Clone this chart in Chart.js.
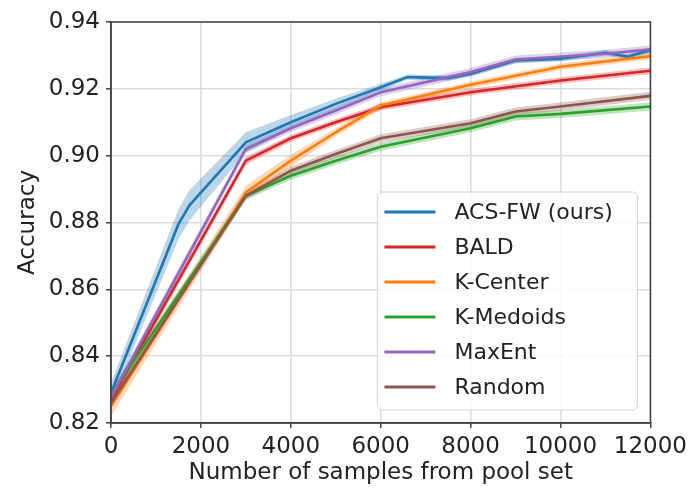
<!DOCTYPE html>
<html>
<head>
    <title>Accuracy vs pool samples</title>
    <script src="https://cdn.jsdelivr.net/npm/chart.js"></script>
    <style>
        body { margin: 0; background: #fff; }
    </style>
</head>
<body>
    <canvas id="accChart" width="692" height="488"></canvas>

    <script>
        // tick positions
        const xTicks = [0, 2000, 4000, 6000, 8000, 10000, 12000];
        const yTicks = [0.82, 0.84, 0.86, 0.88, 0.90, 0.92, 0.94];

        // ACS-FW (ours)
        const acsX = [0, 1500, 1750, 3000, 4000, 5000, 6000, 6600, 7500, 8000, 9000, 10000, 11000, 11500, 12000];
        const acsY = [0.829, 0.8795, 0.8852, 0.904, 0.910, 0.9155, 0.9205, 0.9235, 0.9232, 0.9245, 0.9285, 0.929, 0.9308, 0.9296, 0.9316];
        const acsSd = [0.003, 0.0045, 0.0045, 0.003, 0.0022, 0.0015, 0.001, 0.0008, 0.0008, 0.0008, 0.0008, 0.0008, 0.0008, 0.0008, 0.0008];

        // BALD
        const baldX = [0, 3000, 4000, 5000, 6000, 8000, 10000, 12000];
        const baldY = [0.827, 0.8985, 0.9052, 0.910, 0.9145, 0.919, 0.9225, 0.9254];
        const baldSd = [0.0015, 0.0012, 0.001, 0.001, 0.001, 0.001, 0.001, 0.001];

        // K-Center
        const kcX = [0, 3000, 4000, 5000, 6000, 8000, 10000, 12000];
        const kcY = [0.825, 0.889, 0.8985, 0.907, 0.915, 0.9212, 0.9266, 0.9298];
        const kcSd = [0.003, 0.002, 0.0018, 0.0012, 0.001, 0.001, 0.001, 0.001];

        // K-Medoids
        const kmX = [0, 3000, 4000, 5000, 6000, 8000, 9000, 10000, 12000];
        const kmY = [0.8285, 0.888, 0.894, 0.8985, 0.9027, 0.9082, 0.9117, 0.9125, 0.9147];
        const kmSd = [0.0015, 0.0012, 0.0012, 0.0012, 0.0012, 0.0012, 0.0012, 0.0012, 0.0012];

        // MaxEnt
        const meX = [0, 3000, 4000, 5000, 6000, 8000, 9000, 11000, 12000];
        const meY = [0.8277, 0.902, 0.9082, 0.9135, 0.919, 0.925, 0.9288, 0.9305, 0.9318];
        const meSd = [0.0015, 0.0012, 0.0012, 0.0012, 0.0012, 0.0012, 0.0012, 0.0012, 0.0012];

        // Random
        const rndX = [0, 3000, 4000, 5000, 6000, 8000, 9000, 10000, 12000];
        const rndY = [0.826, 0.888, 0.8955, 0.9005, 0.9052, 0.9097, 0.9132, 0.9147, 0.9179];
        const rndSd = [0.0015, 0.0012, 0.0012, 0.0012, 0.0012, 0.0012, 0.0012, 0.0012, 0.0012];

        const series = [
            { label: 'ACS-FW (ours)', xs: acsX, ys: acsY, sd: acsSd, color: [31, 119, 180] },
            { label: 'BALD',          xs: baldX, ys: baldY, sd: baldSd, color: [214, 39, 40] },
            { label: 'K-Center',      xs: kcX, ys: kcY, sd: kcSd, color: [255, 127, 14] },
            { label: 'K-Medoids',     xs: kmX, ys: kmY, sd: kmSd, color: [44, 160, 44] },
            { label: 'MaxEnt',        xs: meX, ys: meY, sd: meSd, color: [148, 103, 189] },
            { label: 'Random',        xs: rndX, ys: rndY, sd: rndSd, color: [140, 86, 75] }
        ];

        const rgba = (c, a) => `rgba(${c[0]},${c[1]},${c[2]},${a})`;

        const datasets = [];
        // shaded bands: upper edge then lower edge filled to it
        series.forEach(s => {
            datasets.push({
                data: s.xs.map((x, i) => ({ x: x, y: s.ys[i] + s.sd[i] })),
                borderWidth: 0, pointRadius: 0, fill: false, order: 2
            });
            datasets.push({
                data: s.xs.map((x, i) => ({ x: x, y: s.ys[i] - s.sd[i] })),
                borderWidth: 0, pointRadius: 0, fill: '-1',
                backgroundColor: rgba(s.color, 0.3), order: 2
            });
        });
        const lineSets = series.map(s => ({
            label: s.label,
            data: s.xs.map((x, i) => ({ x: x, y: s.ys[i] })),
            borderColor: rgba(s.color, 1),
            borderWidth: 2.6,
            pointRadius: 0,
            fill: false,
            tension: 0,
            order: 1
        }));
        datasets.push(...lineSets.reverse());

        const FONT = 'DejaVu Sans';
        const INK = '#222222';
        const SPINE = '#404040';

        function roundRect(ctx, x, y, w, h, r) {
            ctx.beginPath();
            ctx.moveTo(x + r, y);
            ctx.arcTo(x + w, y, x + w, y + h, r);
            ctx.arcTo(x + w, y + h, x, y + h, r);
            ctx.arcTo(x, y + h, x, y, r);
            ctx.arcTo(x, y, x + w, y, r);
            ctx.closePath();
        }

        // axes frame on all four sides, plus the legend in the lower right corner
        const frameAndLegend = {
            id: 'frameAndLegend',
            afterDraw(chart) {
                const { ctx, chartArea: a } = chart;
                ctx.save();
                ctx.strokeStyle = SPINE;
                ctx.lineWidth = 1.5;
                ctx.strokeRect(a.left, a.top, a.right - a.left, a.bottom - a.top);

                const w = 260, h = 218;
                const x0 = a.right - 13 - w, y0 = a.bottom - 13 - h;
                roundRect(ctx, x0, y0, w, h, 5);
                ctx.fillStyle = 'rgba(255,255,255,0.85)';
                ctx.fill();
                ctx.strokeStyle = '#d0d0d0';
                ctx.lineWidth = 1;
                ctx.stroke();

                ctx.font = `22px "${FONT}"`;
                ctx.textBaseline = 'middle';
                ctx.fillStyle = INK;
                series.forEach((s, i) => {
                    const y = y0 + 20 + i * 35;
                    ctx.strokeStyle = rgba(s.color, 1);
                    ctx.lineWidth = 3;
                    ctx.beginPath();
                    ctx.moveTo(x0 + 7, y);
                    ctx.lineTo(x0 + 58, y);
                    ctx.stroke();
                    ctx.fillText(s.label, x0 + 77, y + 1);
                });
                ctx.restore();
            }
        };

        const ctx = document.getElementById('accChart').getContext('2d');
        const chart = new Chart(ctx, {
            type: 'line',
            data: { datasets: datasets },
            options: {
                responsive: false,
                animation: false,
                layout: { padding: { top: 22, right: 41, left: 0, bottom: 0 } },
                plugins: {
                    legend: { display: false },
                    tooltip: { enabled: false }
                },
                scales: {
                    x: {
                        type: 'linear',
                        min: 0,
                        max: 12000,
                        afterBuildTicks: axis => { axis.ticks = xTicks.map(v => ({ value: v })); },
                        afterFit: axis => { axis.height = 65; },
                        grid: { color: '#dedede', lineWidth: 1.6, tickLength: 5, tickColor: SPINE, tickWidth: 1.5 },
                        border: { color: SPINE, width: 1.5 },
                        ticks: {
                            color: INK, padding: 5, maxRotation: 0,
                            font: { family: FONT, size: 23 },
                            callback: v => String(v)
                        },
                        title: {
                            display: true, text: 'Number of samples from pool set', color: INK,
                            font: { family: FONT, size: 23 }, padding: { top: 0, bottom: 1 }
                        }
                    },
                    y: {
                        min: 0.82,
                        max: 0.94,
                        afterBuildTicks: axis => { axis.ticks = yTicks.map(v => ({ value: v })); },
                        afterFit: axis => { axis.width = 111; },
                        grid: { color: '#dedede', lineWidth: 1.6, tickLength: 5, tickColor: SPINE, tickWidth: 1.5 },
                        border: { color: SPINE, width: 1.5 },
                        ticks: {
                            color: INK, padding: 6,
                            font: { family: FONT, size: 23 },
                            callback: v => v.toFixed(2)
                        },
                        title: {
                            display: true, text: 'Accuracy', color: INK,
                            font: { family: FONT, size: 23 }, padding: { top: 14, bottom: 0 }
                        }
                    }
                }
            },
            plugins: [frameAndLegend]
        });
    </script>
</body>
</html>
